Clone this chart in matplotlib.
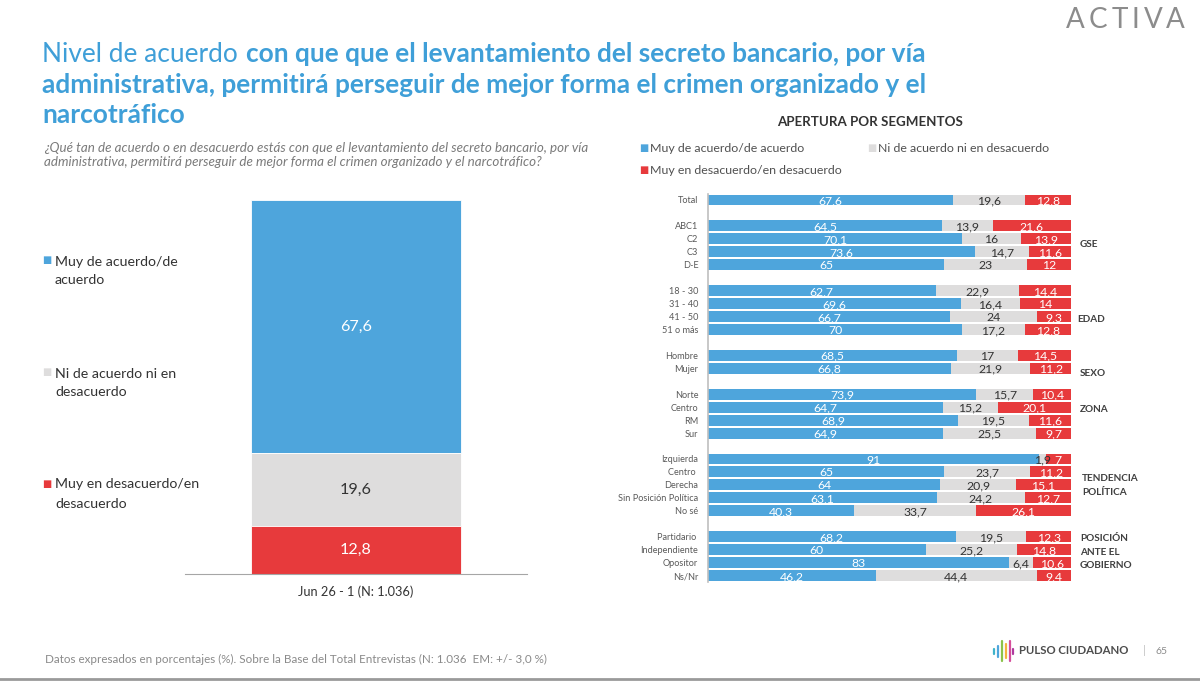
import matplotlib
matplotlib.use("Agg")
import matplotlib.pyplot as plt
import numpy as np

W, H = 1200, 681
plt.rcParams['font.family'] = ['Lato', 'DejaVu Sans']

BLUE, GREY, RED = '#4EA5DC', '#DEDDDD', '#E73A3C'

# --- data ---
series_names = ['Muy de acuerdo/de acuerdo', 'Ni de acuerdo ni en desacuerdo', 'Muy en desacuerdo/en desacuerdo']
left_category = 'Jun 26 - 1 (N: 1.036)'
left_values = [67.6, 19.6, 12.8]
left_labels = ['67,6', '19,6', '12,8']
left_legend = ['Muy de acuerdo/de\nacuerdo', 'Ni de acuerdo ni en\ndesacuerdo', 'Muy en desacuerdo/en\ndesacuerdo']

row_names = ['Total', '',
             'ABC1', 'C2', 'C3', 'D-E', '',
             '18 - 30', '31 - 40', '41 - 50', '51 o más', '',
             'Hombre', 'Mujer', '',
             'Norte', 'Centro', 'RM', 'Sur', '',
             'Izquierda', 'Centro ', 'Derecha', 'Sin Posición Política', 'No sé', '',
             'Partidario ', 'Independiente', 'Opositor', 'Ns/Nr']
agree = [67.6, None, 64.5, 70.1, 73.6, 65, None, 62.7, 69.6, 66.7, 70, None, 68.5, 66.8, None,
         73.9, 64.7, 68.9, 64.9, None, 91, 65, 64, 63.1, 40.3, None, 68.2, 60, 83, 46.2]
neutral = [19.6, None, 13.9, 16, 14.7, 23, None, 22.9, 16.4, 24, 17.2, None, 17, 21.9, None,
           15.7, 15.2, 19.5, 25.5, None, 1.9, 23.7, 20.9, 24.2, 33.7, None, 19.5, 25.2, 6.4, 44.4]
disagree = [12.8, None, 21.6, 13.9, 11.6, 12, None, 14.4, 14, 9.3, 12.8, None, 14.5, 11.2, None,
            10.4, 20.1, 11.6, 9.7, None, 7, 11.2, 15.1, 12.7, 26.1, None, 12.3, 14.8, 10.6, 9.4]

group_names = ['GSE', 'EDAD', 'SEXO', 'ZONA', 'TENDENCIA\nPOLÍTICA', 'POSICIÓN\nANTE EL\nGOBIERNO']

title_regular = 'Nivel de acuerdo '
title_bold_1 = 'con que que el levantamiento del secreto bancario, por vía'
title_bold_2 = 'administrativa, permitirá perseguir de mejor forma el crimen organizado y el'
title_bold_3 = 'narcotráfico'
question = ('¿Qué tan de acuerdo o en desacuerdo estás con que el levantamiento del secreto bancario, por vía\n'
            'administrativa, permitirá perseguir de mejor forma el crimen organizado y el narcotráfico?')
footer = 'Datos expresados en porcentajes (%). Sobre la Base del Total Entrevistas (N: 1.036  EM: +/- 3,0 %)'


def fmt(v):
    return f'{v:g}'.replace('.', ',')


fig = plt.figure(figsize=(W / 100, H / 100), dpi=100, facecolor='white')


def px_axes(x0, y0, x1, y1):
    return fig.add_axes([x0 / W, 1 - y1 / H, (x1 - x0) / W, (y1 - y0) / H])


def ftext(x, y, s, **kw):
    kw.setdefault('va', 'center')
    return fig.text(x / W, 1 - y / H, s, **kw)


# --- title ---
TC = '#3F9FD8'
TS = 18.9
t = ftext(42, 54, title_regular, color=TC, fontsize=TS)
fig.canvas.draw()
ext = t.get_window_extent()
ftext(ext.x1 + 1, 54, title_bold_1, color=TC, fontsize=TS, fontweight='bold')
ftext(42, 85, title_bold_2, color=TC, fontsize=TS, fontweight='bold')
ftext(42, 115, title_bold_3, color=TC, fontsize=TS, fontweight='bold')
ftext(44, 155, question, color='#7A7A7A', fontsize=9.6, style='italic', linespacing=1.1)

# --- left chart ---
ax = px_axes(185, 200, 527, 574)
bottom = 100.0
for v, c, lab, tc in zip(left_values, [BLUE, GREY, RED], left_labels, ['white', '#333333', 'white']):
    ax.bar([0], [v], bottom=bottom - v, width=0.615, color=c, edgecolor='white', linewidth=0.6)
    ax.text(0, bottom - v / 2, lab, color=tc, fontsize=11.6, ha='center', va='center')
    bottom -= v
ax.set_xlim(-0.5, 0.5)
ax.set_ylim(0, 100)
ax.set_xticks([0], [left_category], fontsize=9.2, color='#333333')
ax.set_yticks([])
ax.tick_params(axis='x', length=0, pad=8)
for s in ['top', 'left', 'right']:
    ax.spines[s].set_visible(False)
ax.spines['bottom'].set_color('#A6A6A6')

for (y, lab, c) in zip([271, 383, 494], left_legend, [BLUE, GREY, RED]):
    ftext(42, y - 10, '■', color=c, fontsize=7, ha='left')
    ftext(55, y, lab, color='#333333', fontsize=10.2, linespacing=1.7)

# --- right chart ---
ftext(870, 122, 'APERTURA POR SEGMENTOS', color='#333333', fontsize=9.6, fontweight='bold', ha='center')
for x, y, lab, c in [(639, 148, series_names[0], BLUE), (867, 148, series_names[1], GREY),
                     (639, 171, series_names[2], RED)]:
    ftext(x, y, '■', color=c, fontsize=7)
    ftext(x + 11.5, y, lab, color='#505050', fontsize=8.95)

y_pos = np.arange(len(row_names))
rax = px_axes(708, 193.5, 1071, 582)
for i, (a, n, d) in enumerate(zip(agree, neutral, disagree)):
    if a is None:
        continue
    tot = a + n + d
    left = 0.0
    for v, c, tc in zip((a, n, d), (BLUE, GREY, RED), ('white', '#333333', 'white')):
        w = v / tot * 100
        rax.barh(y_pos[i], w, left=left, height=0.84, color=c, linewidth=0)
        rax.text(left + w / 2, y_pos[i] + 0.08, fmt(v), color=tc, fontsize=8.8, ha='center', va='center')
        left += w
rax.set_xlim(0, 100)
rax.set_ylim(len(row_names) - 0.5, -0.5)
rax.set_xticks([])
rax.set_yticks(y_pos, row_names, fontsize=6.6, color='#595959')
rax.tick_params(axis='y', length=0, pad=7)
for s in ['top', 'right', 'bottom']:
    rax.spines[s].set_visible(False)
rax.spines['left'].set_color('#BFBFBF')
rax.spines['left'].set_linewidth(1.2)

trans = rax.get_yaxis_transform()
for name, y, xoff in zip(group_names, [3.4, 9.2, 13.4, 16.2, 22.05, 27.2],
                         [1.025, 1.017, 1.025, 1.025, 1.03, 1.025]):
    rax.text(xoff, y, name, transform=trans, fontsize=7.2, fontweight='bold', color='#404040',
             ha='left', va='center', linespacing=1.65)

# --- footer and branding ---
ftext(45, 659, footer, color='#8A8A8A', fontsize=8.4)

# wordmark: real text, letter-spaced to the reference width
cursor = 1066.0
for ch in 'ACTIVA':
    lt = ftext(cursor, 28, ch, color='#8C8C8C', fontsize=20, ha='left', va='baseline')
    fig.canvas.draw()
    cursor = lt.get_window_extent().x1 + 4.0

ftext(1019, 651, 'PULSO CIUDADANO', color='#4D4D4D', fontsize=8.2, fontweight='bold')
ftext(1143, 651, '|', color='#BFBFBF', fontsize=8)
ftext(1155, 651, '65', color='#8C8C8C', fontsize=7.5)
for x, hh, c in zip([994, 998, 1002, 1006, 1010, 1013], [5, 11, 20, 14, 20, 5],
                    ['#3FB3C9', '#4EA5DC', '#8BC34A', '#F4B33E', '#D64D9B', '#B03A9E']):
    fig.add_artist(plt.Line2D([x / W, x / W], [1 - (651 - hh / 2) / H, 1 - (651 + hh / 2) / H],
                              color=c, lw=1.6, solid_capstyle='round'))
fig.add_artist(plt.Line2D([0, 1], [1 - 679 / H, 1 - 679 / H], color='#9A9A9A', lw=2))

fig.savefig('out.png', dpi=100, facecolor='white')
